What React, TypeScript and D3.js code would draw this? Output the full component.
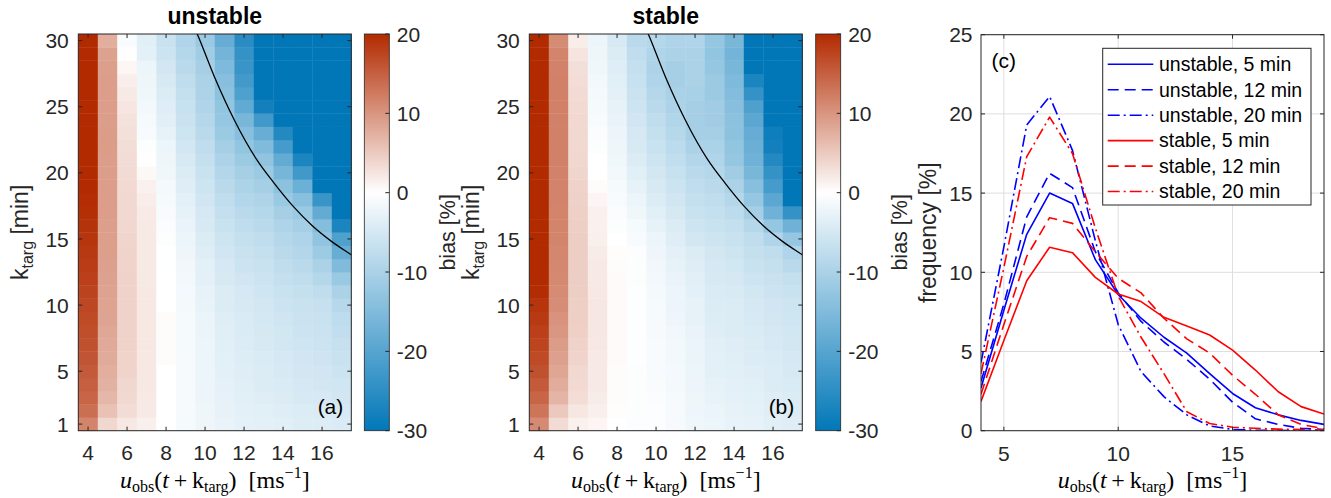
import React from "react";
import * as d3 from "d3";

// ---------------- data ----------------
const windSpeeds = [4, 5, 6, 7, 8, 9, 10, 11, 12, 13, 14, 15, 16, 17];
const leadTimes = [1, 2, 3, 4, 5, 6, 7, 8, 9, 10, 11, 12, 13, 14, 15, 16, 17, 18, 19, 20, 21, 22, 23, 24, 25, 26, 27, 28, 29, 30];
const heatXTicks = [4, 6, 8, 10, 12, 14, 16];
const heatYTicks = [1, 5, 10, 15, 20, 25, 30];
const cbTicks = [-30, -20, -10, 0, 10, 20];
const freqXTicks = [5, 10, 15];
const freqYTicks = [0, 5, 10, 15, 20, 25];
const freqSpeeds = [4, 5, 6, 7, 8, 9, 10, 11, 12, 13, 14, 15, 16, 17, 18, 19];

// bias [%], one row per wind speed, values for k_targ = 1..30
const unstableBias = [
  [11.5, 13.5, 14.5, 15, 15.5, 16, 16.3, 16.6, 17, 17.3, 17.6, 18, 18.3, 18.6, 19, 19.2, 19.5, 19.7, 20, 20.5, 21, 21, 21.5, 21.5, 22, 22, 22, 22.5, 22.5, 22.5],
  [3.8, 5.8, 6.8, 7.3, 7.6, 7.9, 8.1, 8.3, 8.5, 8.6, 8.7, 8.8, 8.9, 9, 9, 9, 9.1, 9.1, 9.2, 9.2, 9.2, 9.3, 9.3, 9.2, 9.2, 9.1, 9.1, 9, 8.8, 7.5],
  [2.2, 3.3, 3.6, 3.8, 4, 4, 4.1, 4.1, 4.2, 4.2, 4.2, 4.1, 4, 4, 3.9, 3.8, 3.7, 3.6, 3.5, 3.4, 3.3, 3.1, 2.9, 2.7, 2.4, 2.1, 1.6, 0.8, 0.1, -0.7],
  [1.5, 2, 2.1, 2.2, 2.2, 2.2, 2.2, 2.2, 2.2, 2.2, 2.2, 2.1, 2.1, 2.1, 2.1, 2.1, 1.9, 1.7, 1.3, 0.7, 0.1, -0.3, -0.8, -1.2, -1.5, -1.8, -2, -2.3, -3.2, -3.6],
  [0, 0, 0, 0, 0, 0.3, 0.3, 0.3, 0.3, 0, 0, 0, -0.1, -0.1, -0.3, -0.6, -0.8, -1.2, -1.4, -1.8, -2, -2.3, -2.9, -3.5, -3.9, -4.3, -4.7, -5.3, -6, -6.5],
  [-1.2, -1.1, -1.1, -1.1, -1.1, -1.1, -1.2, -1.2, -1.2, -1.3, -1.4, -1.5, -1.7, -2, -2.2, -2.6, -2.9, -3.4, -3.9, -4.3, -4.7, -5.3, -5.9, -6.2, -6.7, -7, -7.6, -8.2, -8.8, -9.4],
  [-2, -2, -2.1, -2.1, -2.2, -2.2, -2.3, -2.4, -2.5, -2.7, -2.9, -3.2, -3.4, -3.8, -4.1, -4.7, -5, -5.5, -5.9, -6.5, -7, -7.6, -8.2, -8.8, -9.4, -9.7, -10, -10.6, -11.3, -12],
  [-2.6, -2.8, -3, -3.1, -3.3, -3.4, -3.6, -3.7, -3.9, -4.1, -4.3, -4.7, -5, -5.5, -5.9, -6.5, -7, -7.6, -8.2, -9, -9.8, -10.6, -11.8, -12.4, -12.9, -13.5, -14.1, -15.3, -16.5, -18.2],
  [-3.1, -3.3, -3.5, -3.7, -3.9, -4, -4.2, -4.4, -4.5, -4.7, -5, -5.5, -6, -6.5, -7, -7.6, -8.2, -9, -9.8, -10.6, -11.8, -12.9, -14.1, -15.9, -18.8, -21, -22.3, -23.5, -24, -25.3],
  [-3.3, -3.6, -3.9, -4.1, -4.3, -4.5, -4.7, -4.9, -5.1, -5.3, -5.7, -6.1, -6.5, -7, -7.6, -8.2, -8.8, -9.5, -10.5, -11.8, -13, -15, -18, -22.5, -28, -31, -31, -31, -31, -31],
  [-3.5, -3.9, -4.2, -4.5, -4.8, -5, -5.2, -5.4, -5.7, -6, -6.5, -7, -7.6, -8.2, -8.8, -9.5, -10.5, -12, -13.5, -16, -18.5, -22, -26, -31, -31, -31, -31, -31, -31, -31],
  [-4, -4.3, -4.7, -5, -5.2, -5.5, -5.7, -6, -6.2, -6.5, -7, -7.5, -8.2, -9, -9.5, -10.5, -12, -14, -17.5, -22.5, -27, -31, -31, -31, -31, -31, -31, -31, -31, -31],
  [-4, -4.4, -4.8, -5.2, -5.5, -5.8, -6, -6.2, -6.5, -6.8, -7.5, -8.8, -10, -11.5, -13, -14.5, -18.5, -23.5, -31, -31, -31, -31, -31, -31, -31, -31, -31, -31, -31, -31],
  [-4.4, -4.8, -5.2, -5.6, -6, -6.4, -6.8, -7.2, -7.8, -8.5, -10, -12, -15, -18, -21, -27, -31, -31, -31, -31, -31, -31, -31, -31, -31, -31, -31, -31, -31, -31],
];

const stableBias = [
  [11, 13, 14.5, 15.5, 16.3, 17, 17.5, 18, 18.5, 19, 19.7, 20, 20.5, 21, 22, 22, 22, 22, 22, 22, 22, 22, 22, 22, 22, 22, 22, 22, 22, 22],
  [3.4, 5.1, 7, 7.8, 8.4, 8.9, 9.3, 9.8, 10.2, 10.7, 10.9, 11.1, 11.2, 11.3, 11.5, 11.5, 11.5, 11.6, 11.6, 11.7, 11.8, 11.8, 11.8, 11.8, 11.8, 11.8, 11.8, 11.7, 11.5, 10.8],
  [1.4, 2.3, 3.2, 3.5, 3.7, 4, 4.2, 4.4, 4.5, 4.5, 4.6, 4.6, 4.6, 4.6, 4.6, 4.5, 4.4, 4.3, 4.1, 3.9, 3.8, 3.7, 3.7, 3.6, 3.5, 3.4, 3.2, 3, 2.5, 1.7],
  [0.9, 1.5, 1.8, 2, 2, 2.1, 2.2, 2.3, 2.3, 2.3, 2.2, 2.1, 2, 1.8, 1.5, 1.4, 1.3, 0.9, 0.3, 0, 0, -0.3, -0.6, -0.8, -1.2, -1.4, -1.6, -1.8, -2, -2.3],
  [0, 0.2, 0.3, 0.3, 0.3, 0.5, 0.5, 0.5, 0.5, 0.5, 0.5, 0.4, 0.3, 0.2, 0, -0.3, -0.6, -0.9, -1.2, -1.5, -1.8, -2, -2.3, -2.6, -2.9, -3.2, -3.5, -3.9, -4.3, -4.7],
  [-0.5, -0.3, -0.3, -0.3, -0.3, -0.2, -0.2, -0.2, -0.2, -0.2, -0.2, -0.3, -0.3, -0.4, -0.8, -1.2, -1.8, -2.3, -2.9, -3.5, -4.1, -4.7, -5, -5.5, -5.9, -6.2, -6.7, -7, -7.6, -8.2],
  [-0.4, -0.5, -0.6, -0.7, -0.8, -0.8, -0.9, -1, -1.1, -1.2, -1.3, -1.5, -1.7, -1.9, -2.3, -2.9, -3.5, -4.1, -4.7, -5.3, -5.9, -6.5, -7, -7.6, -8.2, -8.8, -9.4, -9.7, -9.4, -8.8],
  [-1, -1.1, -1.2, -1.3, -1.4, -1.5, -1.6, -1.7, -1.9, -2.1, -2.3, -2.6, -2.9, -3.3, -3.8, -4.3, -4.9, -5.5, -6.1, -6.7, -7.3, -8, -8.6, -9.2, -9.8, -10.2, -10.5, -10.5, -10, -9.5],
  [-1.8, -1.9, -2, -2.1, -2.3, -2.4, -2.5, -2.6, -2.8, -2.9, -3.2, -3.5, -3.9, -4.3, -5.3, -5.9, -6.4, -7, -7.6, -8.2, -9, -10, -10.6, -10.6, -10.6, -10.3, -10, -10, -10, -9.4],
  [-2.3, -2.5, -2.7, -3, -3.2, -3.4, -3.6, -3.8, -4, -4.1, -4.4, -4.7, -5, -5.3, -5.9, -6.5, -7, -7.6, -8.2, -8.8, -9.4, -10, -10.6, -11.2, -11.2, -11.8, -11.8, -12.4, -12.9, -12.4],
  [-2.7, -2.9, -3.1, -3.3, -3.5, -3.7, -3.9, -4.1, -4.2, -4.3, -4.6, -5, -5.4, -5.9, -6.5, -7, -7.9, -8.8, -10, -11.2, -12.4, -12.9, -13.5, -13.5, -14.1, -14.7, -15.3, -15.9, -16.5, -15.9],
  [-2.9, -3.1, -3.4, -3.6, -3.9, -4.1, -4.3, -4.5, -4.8, -5, -5.4, -5.9, -6.4, -7, -7.6, -8.8, -10.6, -12.4, -14.1, -15.9, -17, -17.6, -18.2, -19.4, -21, -24, -27, -31, -31, -31],
  [-3.5, -3.7, -3.9, -4.1, -4.3, -4.5, -4.8, -5, -5.3, -5.5, -6, -6.5, -7, -7.6, -9.4, -12.4, -17, -19.4, -22, -24, -26, -28, -28.5, -31, -31, -31, -31, -31, -31, -31],
  [-3.9, -4.1, -4.3, -4.5, -4.7, -5, -5.2, -5.4, -5.7, -5.9, -6.4, -7, -8.2, -9.4, -12.4, -17, -24, -31, -31, -31, -31, -31, -31, -31, -31, -31, -31, -31, -31, -31],
];

// black reference curve (u, k_targ)
const curveU = [9.3, 9.6, 10.5, 11.5, 12.65, 13.5, 14.5, 15.5, 16.5, 17.5, 17.8];
const curveK = [31.5, 30.5, 27.2, 24.0, 21.0, 19.3, 17.5, 16.0, 14.8, 13.8, 13.5];

// frequency [%] at u = 4..19
const freqUnstable5 = [2.7, 7.6, 12.4, 15.0, 14.35, 10.8, 8.6, 7.1, 5.9, 4.9, 3.6, 2.35, 1.45, 1.0, 0.65, 0.4];
const freqUnstable12 = [3.1, 8.0, 13.5, 16.25, 15.35, 11.3, 8.7, 6.9, 5.6, 4.5, 3.25, 1.8, 0.75, 0.4, 0.15, 0.08];
const freqUnstable20 = [4.3, 11.6, 19.3, 21.1, 17.7, 12.0, 6.7, 3.73, 2.15, 1.0, 0.3, 0.08, 0.03, 0.02, 0.01, 0.01];
const freqStable5 = [1.85, 5.7, 9.47, 11.58, 11.24, 9.68, 8.63, 8.15, 7.16, 6.61, 6.04, 5.09, 3.83, 2.46, 1.52, 1.05];
const freqStable12 = [2.3, 6.7, 11.0, 13.45, 13.09, 11.3, 9.62, 8.7, 7.1, 5.8, 4.9, 3.5, 2.3, 1.0, 0.4, 0.12];
const freqStable20 = [3.6, 10.3, 17.3, 19.8, 17.5, 12.8, 8.5, 5.9, 3.6, 1.2, 0.45, 0.22, 0.15, 0.1, 0.07, 0.05];

const legendLabels = ["unstable, 5 min", "unstable, 12 min", "unstable, 20 min", "stable, 5 min", "stable, 12 min", "stable, 20 min"];

// ---------------- styling ----------------
const SANS = "'Liberation Sans', Arial, Helvetica, sans-serif";
const SERIF = "'Liberation Serif', 'Times New Roman', serif";
const AX = "#262626";
const TICK_FS = 21;
const LABEL_FS = 23;

const color = d3
  .scaleLinear<string>()
  .domain([-30, 0, 20])
  .range(["#0277b8", "#ffffff", "#b22a00"])
  .interpolate(d3.interpolateRgb)
  .clamp(true);

const TOP = 34;
const BOTTOM = 430.7;

function XLabel({ cx, y }: { cx: number; y: number }) {
  return (
    <text x={cx} y={y} textAnchor="middle" fontFamily={SERIF} fontSize={24} fill="#000">
      <tspan fontStyle="italic">u</tspan>
      <tspan fontSize={16} dy={4}>obs</tspan>
      <tspan dy={-4}>{"("}</tspan>
      <tspan fontStyle="italic">t</tspan>
      <tspan>{"\u2009+\u2009k"}</tspan>
      <tspan fontSize={16} dy={4}>targ</tspan>
      <tspan dy={-4}>{")\u00a0\u00a0[ms"}</tspan>
      <tspan fontSize={16} dy={-10}>{"\u22121"}</tspan>
      <tspan dy={10}>{"]"}</tspan>
    </text>
  );
}

function KLabel({ x, cy }: { x: number; cy: number }) {
  return (
    <text transform={`translate(${x},${cy}) rotate(-90)`} textAnchor="middle" fontFamily={SANS} fontSize={LABEL_FS} fill={AX}>
      <tspan>k</tspan>
      <tspan fontSize={16} dy={5}>targ</tspan>
      <tspan dy={-5}>{"\u00a0[min]"}</tspan>
    </text>
  );
}

function Heatmap({ x0, x1, data, title, tag, clipId }: { x0: number; x1: number; data: number[][]; title: string; tag: string; clipId: string }) {
  const xs = d3.scaleLinear().domain([3.5, 17.5]).range([x0, x1]);
  const ys = d3.scaleLinear().domain([0.5, 30.5]).range([BOTTOM, TOP]);
  const line = d3
    .line<number>()
    .x((_, i) => xs(curveU[i]))
    .y((d) => ys(d))
    .curve(d3.curveMonotoneX);
  const tl = 4;
  return (
    <g>
      <defs>
        <clipPath id={clipId}>
          <rect x={x0} y={TOP} width={x1 - x0} height={BOTTOM - TOP} />
        </clipPath>
      </defs>
      {data.map((col, i) =>
        col.map((v, j) => {
          const u = windSpeeds[i];
          const k = leadTimes[j];
          return (
            <rect
              key={`${i}-${j}`}
              x={xs(u - 0.5)}
              y={ys(k + 0.5)}
              width={xs(u + 0.5) - xs(u - 0.5) + 0.4}
              height={ys(k - 0.5) - ys(k + 0.5) + 0.4}
              fill={color(v)}
            />
          );
        })
      )}
      <path d={line(curveK) || ""} fill="none" stroke="#000" strokeWidth={1.3} clipPath={`url(#${clipId})`} />
      <rect x={x0} y={TOP} width={x1 - x0} height={BOTTOM - TOP} fill="none" stroke={AX} strokeWidth={1} />
      {heatXTicks.map((t) => (
        <g key={`xt${t}`}>
          <line x1={xs(t)} x2={xs(t)} y1={BOTTOM} y2={BOTTOM - tl} stroke={AX} />
          <line x1={xs(t)} x2={xs(t)} y1={TOP} y2={TOP + tl} stroke={AX} />
          <text x={xs(t)} y={460} textAnchor="middle" fontFamily={SANS} fontSize={TICK_FS} fill={AX}>
            {t}
          </text>
        </g>
      ))}
      {heatYTicks.map((t) => (
        <g key={`yt${t}`}>
          <line x1={x0} x2={x0 + tl} y1={ys(t)} y2={ys(t)} stroke={AX} />
          <line x1={x1} x2={x1 - tl} y1={ys(t)} y2={ys(t)} stroke={AX} />
          <text x={x0 - 9.5} y={ys(t)} dy="0.36em" textAnchor="end" fontFamily={SANS} fontSize={TICK_FS} fill={AX}>
            {t}
          </text>
        </g>
      ))}
      <text x={(x0 + x1) / 2} y={24} textAnchor="middle" fontFamily={SANS} fontWeight="bold" fontSize={LABEL_FS} fill="#000">
        {title}
      </text>
      <text x={x1 - 8} y={413.5} textAnchor="end" fontFamily={SANS} fontSize={TICK_FS} fill="#000">
        {tag}
      </text>
      <KLabel x={x0 - 50} cy={(TOP + BOTTOM) / 2} />
      <XLabel cx={(x0 + x1) / 2} y={488} />
    </g>
  );
}

function Colorbar({ x0, x1, gradId }: { x0: number; x1: number; gradId: string }) {
  const ys = d3.scaleLinear().domain([-30, 20]).range([BOTTOM, TOP]);
  const stops = d3.range(-30, 20.01, 1);
  return (
    <g>
      <defs>
        <linearGradient id={gradId} x1="0" y1="1" x2="0" y2="0">
          {stops.map((v) => (
            <stop key={v} offset={(v + 30) / 50} stopColor={color(v)} />
          ))}
        </linearGradient>
      </defs>
      <rect x={x0} y={TOP} width={x1 - x0} height={BOTTOM - TOP} fill={`url(#${gradId})`} stroke={AX} strokeWidth={0.8} />
      {cbTicks.map((t) => (
        <g key={t}>
          <line x1={x1} x2={x1 - 4} y1={ys(t)} y2={ys(t)} stroke={AX} />
          <text x={x1 + 7.5} y={ys(t)} dy="0.36em" fontFamily={SANS} fontSize={TICK_FS} fill={AX}>
            {t}
          </text>
        </g>
      ))}
      <text
        transform={`translate(${x1 + 66},${(TOP + BOTTOM) / 2}) rotate(-90)`}
        textAnchor="middle"
        fontFamily={SANS}
        fontSize={21.5}
        fill={AX}
      >
        bias [%]
      </text>
    </g>
  );
}

function FreqPanel() {
  const x0 = 981;
  const x1 = 1324;
  const top = 34.7;
  const xs = d3.scaleLinear().domain([4, 19]).range([x0, x1]);
  const ys = d3.scaleLinear().domain([0, 25]).range([BOTTOM, top]);
  const line = d3
    .line<number>()
    .x((_, i) => xs(freqSpeeds[i]))
    .y((d) => ys(d));
  const series = [
    { data: freqUnstable5, color: "#0000ff", dash: "none" },
    { data: freqUnstable12, color: "#0000ff", dash: "11,6" },
    { data: freqUnstable20, color: "#0000ff", dash: "12,4,2,4" },
    { data: freqStable5, color: "#ff0000", dash: "none" },
    { data: freqStable12, color: "#ff0000", dash: "11,6" },
    { data: freqStable20, color: "#ff0000", dash: "12,4,2,4" },
  ];
  const tl = 4;
  const lgX = 1102.7;
  const lgY = 48.3;
  const lgW = 208.3;
  const lgH = 156.7;
  return (
    <g>
      <defs>
        <clipPath id="clipC">
          <rect x={x0} y={top} width={x1 - x0} height={BOTTOM - top} />
        </clipPath>
      </defs>
      <rect x={x0} y={top} width={x1 - x0} height={BOTTOM - top} fill="#fff" />
      {freqXTicks.map((t) => (
        <line key={`gx${t}`} x1={xs(t)} x2={xs(t)} y1={top} y2={BOTTOM} stroke="#dedede" strokeWidth={1} />
      ))}
      {freqYTicks.map((t) => (
        <line key={`gy${t}`} x1={x0} x2={x1} y1={ys(t)} y2={ys(t)} stroke="#dedede" strokeWidth={1} />
      ))}
      <g clipPath="url(#clipC)">
        {series.map((s, i) => (
          <path
            key={i}
            d={line(s.data) || ""}
            fill="none"
            stroke={s.color}
            strokeWidth={1.6}
            strokeDasharray={s.dash}
            strokeLinejoin="round"
          />
        ))}
      </g>
      <rect x={x0} y={top} width={x1 - x0} height={BOTTOM - top} fill="none" stroke={AX} strokeWidth={1} />
      {freqXTicks.map((t) => (
        <g key={`xt${t}`}>
          <line x1={xs(t)} x2={xs(t)} y1={BOTTOM} y2={BOTTOM - tl} stroke={AX} />
          <line x1={xs(t)} x2={xs(t)} y1={top} y2={top + tl} stroke={AX} />
          <text x={xs(t)} y={461} textAnchor="middle" fontFamily={SANS} fontSize={TICK_FS} fill={AX}>
            {t}
          </text>
        </g>
      ))}
      {freqYTicks.map((t) => (
        <g key={`yt${t}`}>
          <line x1={x0} x2={x0 + tl} y1={ys(t)} y2={ys(t)} stroke={AX} />
          <line x1={x1} x2={x1 - tl} y1={ys(t)} y2={ys(t)} stroke={AX} />
          <text x={x0 - 8.5} y={ys(t)} dy="0.36em" textAnchor="end" fontFamily={SANS} fontSize={TICK_FS} fill={AX}>
            {t}
          </text>
        </g>
      ))}
      <text x={991.5} y={68} fontFamily={SANS} fontSize={TICK_FS} fill="#000">
        (c)
      </text>
      <rect x={lgX} y={lgY} width={lgW} height={lgH} fill="#fff" stroke={AX} strokeWidth={1} />
      {legendLabels.map((lab, i) => {
        const yy = lgY + 16 + i * 25.45;
        const s = series[i];
        return (
          <g key={lab}>
            <line x1={1107.7} x2={1153.3} y1={yy} y2={yy} stroke={s.color} strokeWidth={1.6} strokeDasharray={s.dash} />
            <text x={1159} y={yy} dy="0.35em" fontFamily={SANS} fontSize={19.5} fill="#000">
              {lab}
            </text>
          </g>
        );
      })}
      <text
        transform={`translate(${936},${(top + BOTTOM) / 2}) rotate(-90)`}
        textAnchor="middle"
        fontFamily={SANS}
        fontSize={LABEL_FS}
        fill={AX}
      >
        frequency [%]
      </text>
      <XLabel cx={(x0 + x1) / 2} y={488} />
    </g>
  );
}

export default function App() {
  return (
    <svg
      width={1331}
      height={498}
      viewBox="0 0 1331 498"
      style={{ position: "absolute", left: 0, top: 0, background: "#fff" }}
    >
      <rect x={0} y={0} width={1331} height={498} fill="#fff" />
      <Heatmap x0={78.3} x1={351.3} data={unstableBias} title="unstable" tag="(a)" clipId="clipA" />
      <Colorbar x0={364.3} x1={389.3} gradId="gradA" />
      <Heatmap x0={529.3} x1={802.3} data={stableBias} title="stable" tag="(b)" clipId="clipB" />
      <Colorbar x0={815.7} x1={840.7} gradId="gradB" />
      <FreqPanel />
    </svg>
  );
}
